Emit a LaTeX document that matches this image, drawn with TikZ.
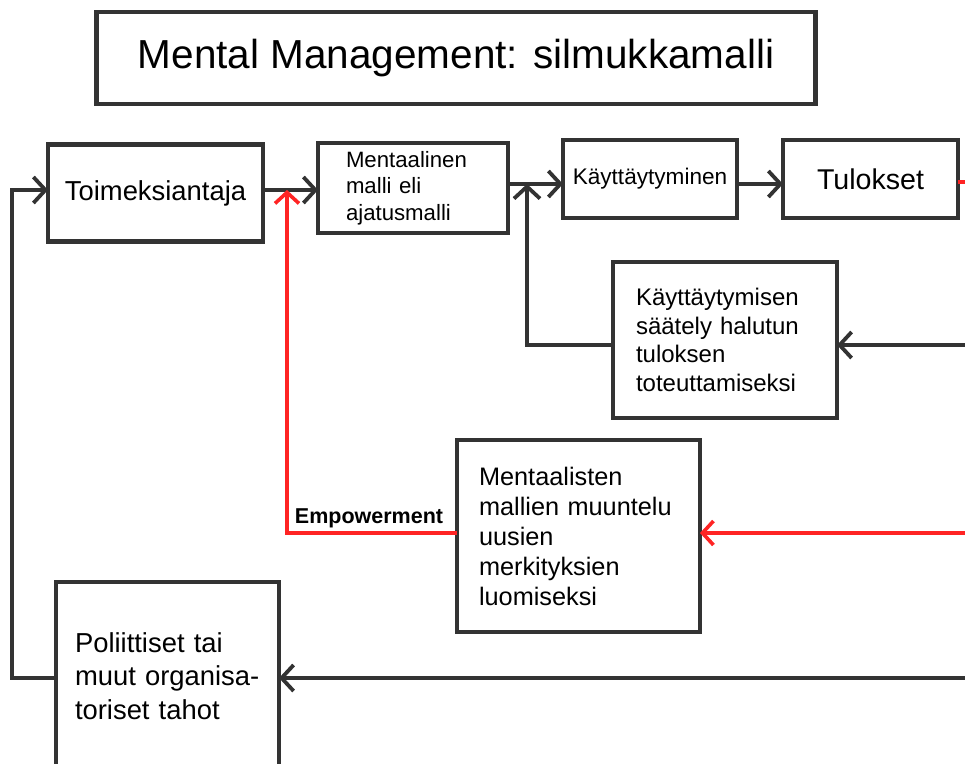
\documentclass[tikz,border=0pt]{standalone}
\usepackage{fontspec}
\setmainfont{Liberation Sans}
\usetikzlibrary{arrows.meta}
\definecolor{dk}{HTML}{333333}
\definecolor{rd}{HTML}{FF2424}
\tikzset{
  box/.style={draw=dk, line width=4.2pt, inner ysep=0pt, outer sep=0pt, align=left, anchor=center},
  conn/.style={draw=dk, line width=3.8pt, -{Straight Barb[length=12pt,width=26pt]}},
  rconn/.style={draw=rd, line width=3.6pt, -{Straight Barb[length=11pt,width=24pt]}},
}
\begin{document}
\begin{tikzpicture}[x=1pt,y=-1pt]
\useasboundingbox (0,0) rectangle (965,763);
\clip (0,0) rectangle (965,763);
% boxes
\node[box, minimum width=719pt, minimum height=92pt, align=center, font=\fontsize{40.5}{48}\selectfont] (title) at (456,58) {Mental Management: silmukkamalli};
\node[box, minimum width=215pt, minimum height=97pt, inner xsep=0pt, align=center, font=\fontsize{27.4}{32}\selectfont] (toim) at (155.5,193) {Toimeksiantaja};
\node[box, minimum height=90pt, inner xsep=28pt, text width=134pt, font=\fontsize{22.2}{26.5}\selectfont] (ment) at (413,188) {Mentaalinen\\malli eli\\ajatusmalli};
\node[box, minimum width=174pt, minimum height=78pt, inner xsep=0pt, align=center, font=\fontsize{22.6}{26}\selectfont] (kayt) at (650,179) {Käyttäytyminen};
\node[box, minimum width=175pt, minimum height=78pt, inner xsep=0pt, align=center, font=\fontsize{28.6}{33}\selectfont] (tul) at (870.5,179) {Tulokset};
\node[box, minimum height=156pt, inner xsep=23pt, text width=178pt, font=\fontsize{24}{28.7}\selectfont] (saat) at (725,340) {Käyttäytymisen\\säätely halutun\\tuloksen\\toteuttamiseksi};
\node[box, minimum height=192pt, inner xsep=22pt, text width=199pt, font=\fontsize{25.3}{30}\selectfont] (mentl) at (578.5,536) {Mentaalisten\\mallien muuntelu\\uusien\\merkityksien\\luomiseksi};
\node[box, minimum height=188pt, inner xsep=19pt, text width=185pt, font=\fontsize{27.4}{33.5}\selectfont] (polit) at (167.5,676) {Poliittiset tai\\muut organisa-\\toriset tahot};
% coordinates
\coordinate (L) at (12,678);
\coordinate (r1) at (0,190);
\coordinate (r2) at (0,184);
\coordinate (J1) at (287,190);
\coordinate (J2) at (527,184);
\coordinate (R1) at (965,182);
\coordinate (R2) at (965,345);
\coordinate (R3) at (965,533);
\coordinate (R4) at (965,678);
% connectors
\draw[conn] (polit.west |- L) -- (L) |- (toim.west |- r1);
\draw[conn] (toim.east |- r1) -- (ment.west |- r1);
\draw[conn] (ment.east |- r2) -- (kayt.west |- r2);
\draw[conn] (kayt.east |- r2) -- (tul.west |- r2);
\draw[draw=rd, line width=3.6pt] (tul.east |- R1) -- (R1);
\draw[conn] (R2) -- (saat.east |- R2);
\draw[conn] (saat.west |- R2) -| (J2);
\draw[rconn] (R3) -- (mentl.east |- R3);
\draw[rconn] (mentl.west |- R3) -| (J1);
\node[font=\bfseries\fontsize{21.5}{24}\selectfont, anchor=base] (emp) at (369,523) {Empowerment};
\draw[conn] (R4) -- (polit.east |- R4);
\end{tikzpicture}
\end{document}
